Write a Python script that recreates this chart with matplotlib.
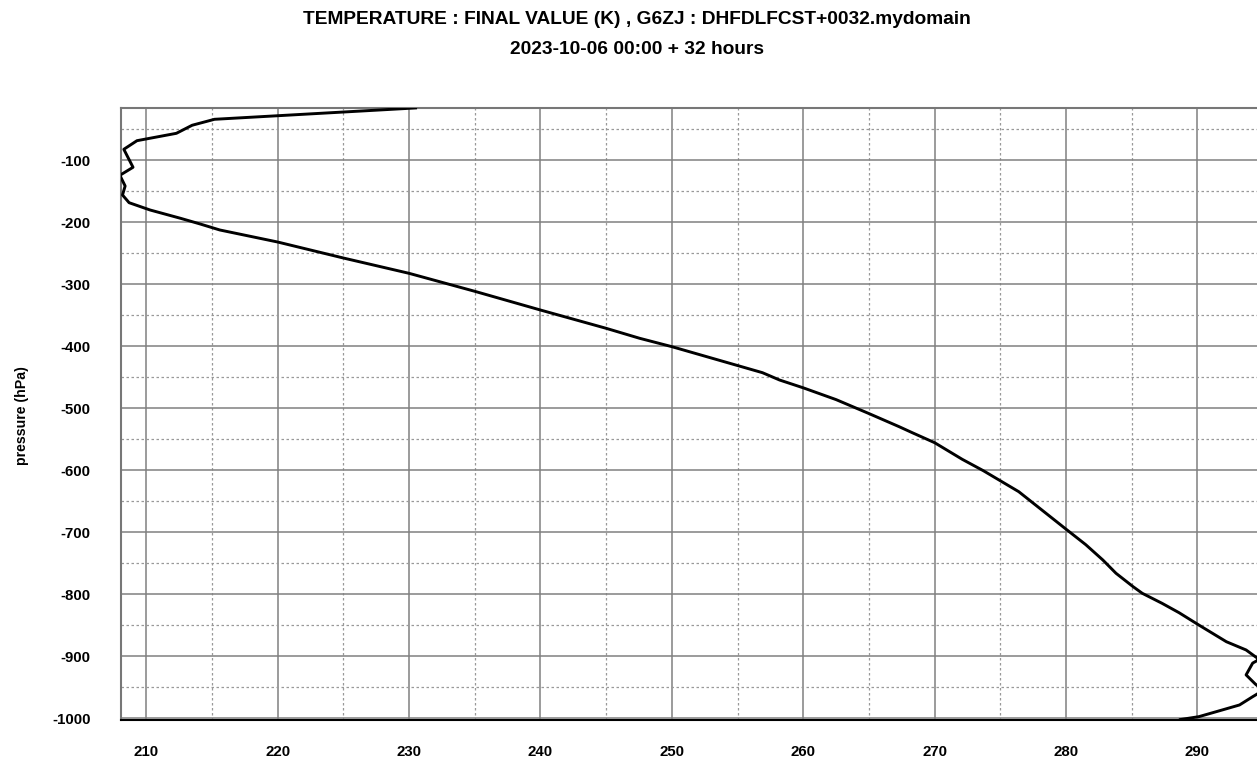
import numpy as np
import matplotlib
matplotlib.use("Agg")
import matplotlib.pyplot as plt
from matplotlib.ticker import MultipleLocator, FixedLocator

plt.rcParams["font.family"] = ["Liberation Sans", "DejaVu Sans"]
plt.rcParams["font.weight"] = "bold"
plt.rcParams["axes.unicode_minus"] = False

# temperature profile (K) against pressure (hPa, negative so surface is at bottom)
temp = [230.5, 215.2, 213.5, 212.3, 209.3, 208.3, 209.0, 208.0, 208.4, 208.2,
        208.7, 210.3, 212.6, 214.1, 215.6, 220.0, 225.0, 230.0, 235.0, 240.0,
        245.0, 247.55, 250.0, 256.9, 258.2, 260.0, 262.5, 265.0, 267.3, 268.3,
        270.0, 272.1, 273.7, 276.4, 280.0, 281.5, 282.8, 283.8, 285.1, 285.8,
        287.3, 288.6, 290.1, 292.2, 293.7, 294.4, 294.7, 294.2, 293.7, 294.4,
        295.0, 294.2, 293.2, 291.7, 290.1, 288.7]
pres = [-15.6, -33.9, -43.5, -56.5, -68.4, -82.3, -111.3, -124.2, -141.5, -156.0,
        -168.4, -180.2, -193.5, -202.7, -212.4, -231.8, -257.6, -282.3, -311.3, -341.5,
        -371.0, -387.1, -400.6, -442.6, -454.4, -467.0, -486.0, -508.5, -529.7, -539.4,
        -555.5, -582.3, -600.6, -634.5, -695.0, -720.0, -744.7, -766.1, -787.7, -798.4,
        -814.5, -829.7, -849.5, -876.5, -889.8, -900.6, -905.0, -911.0, -930.0, -944.7,
        -955.0, -965.2, -978.5, -987.7, -997.4, -1002.0]

xticks = [210, 220, 230, 240, 250, 260, 270, 280, 290]
yticks = [-100, -200, -300, -400, -500, -600, -700, -800, -900, -1000]

fig = plt.figure(figsize=(12.57, 7.59), dpi=100)
ax = fig.add_axes([0.0960, 0.0520, 0.9040, 0.8061])

ax.plot(temp, pres, color="black", lw=2.1, zorder=3)

ax.set_xlim(208.06, 294.53)
ax.set_ylim(-1002.0, -15.2)
ax.xaxis.set_major_locator(FixedLocator(xticks))
ax.yaxis.set_major_locator(FixedLocator(yticks))
ax.xaxis.set_minor_locator(MultipleLocator(5))
ax.yaxis.set_minor_locator(MultipleLocator(50))

ax.grid(True, which="major", color="#808080", lw=1.1, ls="-")
ax.grid(True, which="minor", color="#999999", lw=0.9, ls=(0, (2, 2)))
ax.set_axisbelow(True)

ax.tick_params(which="both", length=0)
ax.tick_params(axis="x", pad=18, labelsize=10.8)
ax.tick_params(axis="y", pad=21.5, labelsize=10.8)
for lab in ax.get_xticklabels() + ax.get_yticklabels():
    lab.set_fontweight("bold")

for s in ["left", "top"]:
    ax.spines[s].set_color("#777777")
    ax.spines[s].set_linewidth(1.5)
ax.spines["bottom"].set_color("black")
ax.spines["bottom"].set_linewidth(1.5)
ax.spines["right"].set_visible(False)

fig.text(0.507, 1 - 20 / 759, "TEMPERATURE : FINAL VALUE (K) , G6ZJ : DHFDLFCST+0032.mydomain",
         ha="center", va="center", fontsize=13.8, fontweight="bold")
fig.text(0.507, 1 - 50 / 759, "2023-10-06 00:00 + 32 hours",
         ha="center", va="center", fontsize=13.8, fontweight="bold")
fig.text(22.5 / 1257, 1 - 416 / 759, "pressure (hPa)", rotation=90,
         ha="center", va="center", fontsize=10.2, fontweight="bold")

fig.savefig("out.png", dpi=100)
